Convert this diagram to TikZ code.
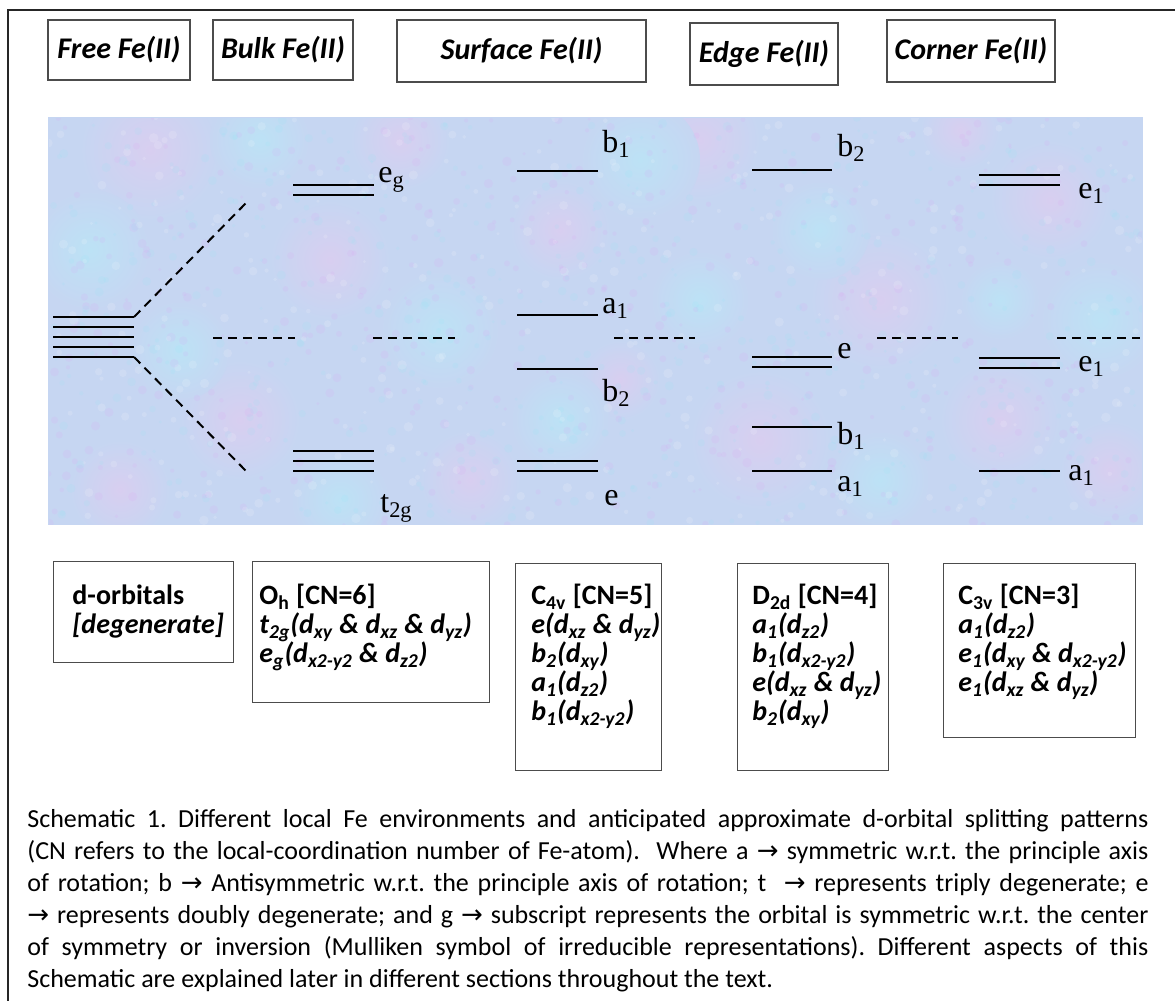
\documentclass[tikz,border=0pt]{standalone}
\usepackage{fontspec}
\setmainfont{Carlito}
\newfontfamily\lvlfont{Liberation Serif}
\newfontfamily\arrfont{DejaVu Sans}
\newcommand\myarr{{\arrfont →}}
\newcommand\subx[1]{\textsubscript{#1}}
\newcommand\capline[1]{\makebox[\hsize][s]{#1}\par}
\definecolor{bgbase}{RGB}{198,214,242}
\definecolor{bgpink}{RGB}{216,206,240}
\definecolor{bgcyan}{RGB}{188,226,245}
\frenchspacing
\lineskiplimit=-50pt
\begin{document}
\begin{tikzpicture}[x=0.5pt,y=-0.5pt,
  frameline/.style={line width=0.8pt, black!85},
  titlebox/.style={draw=black!70, line width=0.6pt, fill=white, font=\fontsize{15}{17}\selectfont\bfseries\itshape, inner sep=0pt},
  lvl/.style={line width=1.4pt, black},
  split/.style={line width=1pt, dash pattern=on 4.5pt off 3pt, black},
  lvlab/.style={font=\lvlfont\fontsize{16}{18}\selectfont, inner sep=0pt, anchor=base west},
  infobox/.style={draw=black!70, line width=0.7pt, fill=white, inner sep=0pt, anchor=north west},
  infotext/.style={font=\fontsize{14}{14.5}\selectfont\bfseries, inner sep=0pt, anchor=north west, align=left},
  captext/.style={font=\fontsize{13}{16}\selectfont, inner sep=0pt, anchor=base west}
]
\fill[white] (0,0) rectangle (1175,1001);
\useasboundingbox (0,0) rectangle (1175,1001);
% outer frame (cut by the picture edge)
\draw[frameline] (1175,10) -- (8,10) -- (8,1001);

% title boxes
\node[titlebox, minimum width=71pt, minimum height=30pt] (tFree) at (119,50) {Free Fe(II)};
\node[titlebox, minimum width=70pt, minimum height=30pt] (tBulk) at (283,50) {Bulk Fe(II)};
\node[titlebox, minimum width=124.5pt, minimum height=31pt] (tSurf) at (521.5,51) {Surface Fe(II)};
\node[titlebox, minimum width=74pt, minimum height=31pt] (tEdge) at (764,54) {Edge Fe(II)};
\node[titlebox, minimum width=84pt, minimum height=31pt] (tCorner) at (971,51) {Corner Fe(II)};

% textured panel
\fill[bgbase] (48,117) rectangle (1143,525);
\begin{scope}
\clip (49,118) rectangle (1142,524);
\foreach \bx/\by/\br in {150/150/70,330/260/60,560/230/50,700/140/60,880/300/70,1050/200/60,240/420/60,470/480/50,760/440/70,1000/420/60,120/490/50,620/380/40,400/140/50,960/130/40,1110/470/50}
  \shade[inner color=bgpink, outer color=bgbase] (\bx,\by) circle (\br*0.5pt);
\foreach \bx/\by/\br in {90/250/60,260/140/50,440/330/60,640/160/60,820/230/50,1100/320/60,340/500/50,560/420/50,880/480/50,700/300/50,180/350/50,1000/300/40}
  \shade[inner color=bgcyan, outer color=bgbase] (\bx,\by) circle (\br*0.5pt);
\pgfmathsetseed{11}
\foreach \i in {1,...,1400}{
  \pgfmathsetmacro\sx{48+1095*rnd}
  \pgfmathsetmacro\sy{117+408*rnd}
  \pgfmathsetmacro\sr{0.8+1.6*rnd}
  \pgfmathsetmacro\sk{rnd}
  \ifdim\sk pt<0.35pt
    \fill[bgpink!70!magenta, opacity=0.10] (\sx,\sy) circle (\sr pt);
  \else\ifdim\sk pt<0.7pt
    \fill[bgcyan!70!cyan, opacity=0.10] (\sx,\sy) circle (\sr pt);
  \else
    \fill[white, opacity=0.14] (\sx,\sy) circle (\sr pt);
  \fi\fi
}
\end{scope}

% free ion: five degenerate levels
\foreach \yy in {317,327,337,347,357} \draw[lvl] (53,\yy) -- (134,\yy);
\coordinate (fTop) at (134,317);
\coordinate (fBot) at (134,357);
\coordinate (sTop) at (247,202);
\coordinate (sBot) at (247,472);
\draw[split] (fTop) -- (sTop);
\draw[split] (fBot) -- (sBot);

% bulk (Oh)
\foreach \yy in {185,195} \draw[lvl] (293,\yy) -- (374,\yy);
\foreach \yy in {451,461,471} \draw[lvl] (293,\yy) -- (374,\yy);
\node[lvlab] (lEg) at (378,182) {e\subx{g}};
\node[lvlab] (lT2g) at (380,512) {t\subx{2g}};

% barycentre dashes
\foreach \xa/\xb in {213/295,373/455,614/695,877/958,1057/1140}
  \draw[split] (\xa,338) -- (\xb,338);

% surface (C4v)
\foreach \yy in {171,315,369,461,471} \draw[lvl] (517,\yy) -- (598,\yy);
\node[lvlab] (sB1) at (602,152) {b\subx{1}};
\node[lvlab] (sA1) at (602,313) {a\subx{1}};
\node[lvlab] (sB2) at (602,401) {b\subx{2}};
\node[lvlab] (sE) at (604,505) {e};

% edge (D2d)
\foreach \yy in {170,357,367,427,471} \draw[lvl] (752,\yy) -- (832,\yy);
\node[lvlab] (eB2) at (837,156) {b\subx{2}};
\node[lvlab] (eE) at (837,358) {e};
\node[lvlab] (eB1) at (837,444) {b\subx{1}};
\node[lvlab] (eA1) at (837,491) {a\subx{1}};

% corner (C3v)
\foreach \yy in {175,185,358,368,471} \draw[lvl] (979,\yy) -- (1060,\yy);
\node[lvlab] (cE1a) at (1078,198) {e\subx{1}};
\node[lvlab] (cE1b) at (1078,371) {e\subx{1}};
\node[lvlab] (cA1) at (1068,480) {a\subx{1}};

% information boxes
\node[infobox, minimum width=90pt, minimum height=50.5pt] (bD) at (53,561) {};
\node[infotext] (xD) at (72,584) {d-orbitals\\\relax\textit{[degenerate]}};

\node[infobox, minimum width=118.5pt, minimum height=70.5pt] (bO) at (252,561) {};
\node[infotext] (xO) at (259,584) {O\subx{h} [CN=6]\\
 \textit{t\subx{2g}(d\subx{xy} \& d\subx{xz} \& d\subx{yz})}\\
 \textit{e\subx{g}(d\subx{x2-y2} \& d\subx{z2})}};

\node[infobox, minimum width=73pt, minimum height=103.5pt] (bC) at (515,563) {};
\node[infotext] (xC) at (531,584) {C\subx{4v} [CN=5]\\
 \textit{e(d\subx{xz} \& d\subx{yz})}\\
 \textit{b\subx{2}(d\subx{xy})}\\
 \textit{a\subx{1}(d\subx{z2})}\\
 \textit{b\subx{1}(d\subx{x2-y2})}};

\node[infobox, minimum width=75.5pt, minimum height=103.5pt] (bE) at (737,563) {};
\node[infotext] (xE) at (752,584) {D\subx{2d} [CN=4]\\
 \textit{a\subx{1}(d\subx{z2})}\\
 \textit{b\subx{1}(d\subx{x2-y2})}\\
 \textit{e(d\subx{xz} \& d\subx{yz})}\\
 \textit{b\subx{2}(d\subx{xy})}};

\node[infobox, minimum width=96pt, minimum height=87pt] (bK) at (943,563) {};
\node[infotext] (xK) at (958,584) {C\subx{3v} [CN=3]\\
 \textit{a\subx{1}(d\subx{z2})}\\
 \textit{e\subx{1}(d\subx{xy} \& d\subx{x2-y2})}\\
 \textit{e\subx{1}(d\subx{xz} \& d\subx{yz})}};

% caption
\node[captext] (cap) at (27,827) {\vtop{\hsize=560.5pt\parindent=0pt\baselineskip=16pt
\capline{Schematic 1. Different local Fe environments and anticipated approximate d-orbital splitting patterns}
\capline{(CN refers to the local-coordination number of Fe-atom).\ \ Where a \myarr{} symmetric w.r.t. the principle axis}
\capline{of rotation; b \myarr{} Antisymmetric w.r.t. the principle axis of rotation; t\ \ \myarr{} represents triply degenerate; e}
\capline{\myarr{} represents doubly degenerate; and g \myarr{} subscript represents the orbital is symmetric w.r.t. the center}
\capline{of symmetry or inversion (Mulliken symbol of irreducible representations). Different aspects of this}
\leavevmode Schematic are explained later in different sections throughout the text.\par}};
\end{tikzpicture}
\end{document}
